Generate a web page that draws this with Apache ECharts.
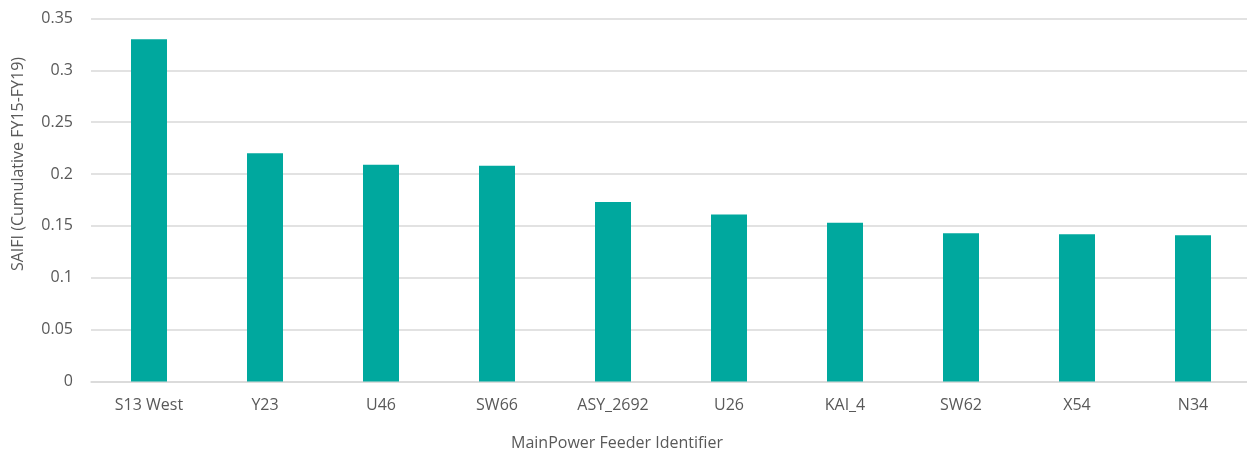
<!DOCTYPE html>
<html>
<head>
<meta charset="utf-8">
<script src="https://cdn.jsdelivr.net/npm/echarts@6/dist/echarts.min.js"></script>
<style>
  html, body { margin: 0; padding: 0; background: #ffffff; }
  #chart { width: 1247px; height: 453px; }
</style>
</head>
<body>
<div id="chart"></div>
<script>
// Feeders ranked by cumulative SAIFI
const feeders = ['S13 West', 'Y23', 'U46', 'SW66', 'ASY_2692', 'U26', 'KAI_4', 'SW62', 'X54', 'N34'];
const saifi = [0.330, 0.220, 0.209, 0.208, 0.173, 0.161, 0.153, 0.143, 0.142, 0.141];
const yTicks = [0, 0.05, 0.1, 0.15, 0.2, 0.25, 0.3, 0.35];

const FONT = '"Open Sans"';
const TEXT = '#595959';
const SIZE = 16;

const chart = echarts.init(document.getElementById('chart'), null, { renderer: 'canvas' });
chart.setOption({
  animation: false,
  backgroundColor: '#ffffff',
  grid: {
    left: 91, right: -4, top: 18.5, bottom: 71.5,
    containLabel: false,
    outerBoundsMode: 'none'
  },
  xAxis: {
    type: 'category',
    data: feeders,
    name: 'MainPower Feeder Identifier',
    nameLocation: 'middle',
    nameGap: 54,
    // title sits left of the plot centre
    nameTextStyle: { fontFamily: FONT, fontSize: SIZE, color: TEXT, padding: [0, 108, 0, 0] },
    axisLine: { show: true, lineStyle: { color: '#D9D9D9', width: 1.5 } },
    axisTick: { show: false },
    axisLabel: { fontFamily: FONT, fontSize: SIZE, color: TEXT, margin: 16 }
  },
  yAxis: {
    type: 'value',
    min: 0,
    max: 0.35,
    interval: 0.05,
    name: 'SAIFI (Cumulative FY15-FY19)',
    nameLocation: 'middle',
    nameGap: 65,
    // title sits above the plot centre
    nameTextStyle: { fontFamily: FONT, fontSize: SIZE, color: TEXT, padding: [0, 0, 0, 72] },
    axisLine: { show: false },
    axisTick: { show: false },
    axisLabel: {
      fontFamily: FONT, fontSize: SIZE, color: TEXT, margin: 18,
      formatter: v => {
        const t = yTicks.find(k => Math.abs(k - v) < 1e-9);
        return String(t !== undefined ? t : v);
      }
    },
    splitLine: { show: true, lineStyle: { color: '#D9D9D9', width: 1.5 } }
  },
  series: [{
    type: 'bar',
    data: saifi,
    barWidth: 36,
    itemStyle: { color: '#00A89E' }
  }]
});
</script>
</body>
</html>
